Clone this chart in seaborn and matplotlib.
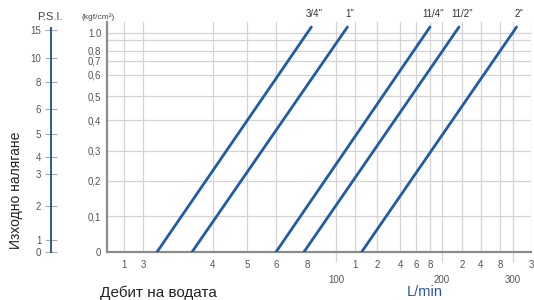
import numpy as np
import pandas as pd
import matplotlib
matplotlib.use("Agg")
import matplotlib.pyplot as plt
import seaborn as sns

# pipe sizes and their flow (L/min) at 0 and at the top of the pressure range
sizes = ['3/4"', '1"', '11/4"', '11/2"', '2"']
flow_start = [32, 37, 60, 78, 113]
flow_end = [83, 106, 180, 217, 306]
press_start = [0, 0, 0, 0, 0]
press_end = [1.1, 1.1, 1.1, 1.1, 1.1]

# x tick labels (the chart's own odd labelling)
x_ticks = [10, 30, 40, 50, 60, 80, 110, 120, 140, 160, 180, 220, 240, 280, 330]
x_tick_labels = ['1', '3', '4', '5', '6', '8', '1', '2', '4', '6', '8', '2', '4', '8', '3']
x_major = [100, 200, 300]
x_major_labels = ['100', '200', '300']

y_ticks = [0, 0.1, 0.2, 0.3, 0.4, 0.5, 0.6, 0.7, 0.8, 0.9, 1.0]
y_tick_labels = ['0', '0,1', '0,2', '0,3', '0,4', '0,5', '0,6', '0,7', '0,8', '', '1.0']

psi_ticks = [0, 1, 2, 3, 4, 5, 6, 8, 10, 15]

# scale knots of the printed (non-linear) axes
x_knot_val = [0, 10, 30, 40, 50, 60, 80, 100, 110, 120, 140, 160, 180, 200, 220, 240, 280, 300, 330]
x_knot_pos = [107, 124, 143, 213, 247, 276, 307, 336, 355, 377, 400, 416, 430, 442, 462, 481, 500, 513, 531]
y_knot_val = [0, 0.1, 0.2, 0.3, 0.4, 0.5, 0.6, 0.7, 0.8, 0.9, 1.0, 1.1, 1.15]
y_knot_pos = [0, 36, 71, 101, 132, 156, 177, 191, 201, 212, 219, 225, 230]
psi_knot_val = [0, 1, 2, 3, 4, 5, 6, 8, 10, 15, 16]
psi_knot_pos = [0, 12, 46, 77, 94, 117, 142, 169, 192, 220, 228]


def make_scale(vals, pos):
    vals = np.array(vals, float)
    pos = np.array(pos, float)
    def fwd(v):
        return np.interp(v, vals, pos)
    def inv(p):
        return np.interp(p, pos, vals)
    return fwd, inv


rows = []
for s, f0, f1, p0, p1 in zip(sizes, flow_start, flow_end, press_start, press_end):
    rows.append((s, f0, p0))
    rows.append((s, f1, p1))
df = pd.DataFrame(rows, columns=['size', 'flow', 'pressure'])

sns.set_style('white')
plt.rcParams['font.family'] = ['Liberation Sans', 'DejaVu Sans']

W, H = 534, 300
fig = plt.figure(figsize=(W / 100, H / 100), dpi=100)

line_blue = '#1f5ca6'
grid_col = '#d4d4d4'
tick_col = '#555555'

ax = fig.add_axes([107 / W, 48 / H, (531 - 107) / W, 230 / H])
ax.set_xscale('function', functions=make_scale(x_knot_val, x_knot_pos))
ax.set_yscale('function', functions=make_scale(y_knot_val, y_knot_pos))

sns.lineplot(data=df, x='flow', y='pressure', hue='size', palette=[line_blue] * 5,
             legend=False, sort=False, lw=2.0, ax=ax, zorder=3)

ax.set_xlim(0, 330)
ax.set_ylim(0, 1.15)
ax.set_xticks(x_ticks, x_tick_labels)
ax.set_xticks(x_major, x_major_labels, minor=True)
ax.set_yticks(y_ticks, y_tick_labels)
ax.tick_params(axis='x', which='major', bottom=True, length=0, pad=6, labelsize=7,
               labelcolor=tick_col)
ax.tick_params(axis='x', which='minor', bottom=True, length=7, width=0.9, color=grid_col,
               pad=9.5, labelsize=7, labelcolor=tick_col)
ax.tick_params(axis='y', length=0, pad=4, labelsize=7, labelcolor=tick_col)
ax.grid(True, which='both', color=grid_col, lw=0.9)
ax.set_axisbelow(True)
for t, v in zip(ax.xaxis.get_major_ticks(), x_ticks):
    if v == 80:
        t.gridline.set_visible(False)
for sp in ['top', 'right']:
    ax.spines[sp].set_visible(False)
for sp in ['left', 'bottom']:
    ax.spines[sp].set_color('#8c8c8c')
    ax.spines[sp].set_linewidth(1.6)
ax.set_xlabel('')
ax.set_ylabel('')

for s, f1, p1 in zip(sizes, flow_end, press_end):
    ax.annotate(s, xy=(f1, p1), xytext=(2, 6), textcoords='offset points',
                ha='center', va='bottom', fontsize=7, color='#333333',
                annotation_clip=False)

# P.S.I. scale on the left
ax2 = fig.add_axes([51 / W, 48 / H, 0.001, 230 / H])
ax2.set_yscale('function', functions=make_scale(psi_knot_val, psi_knot_pos))
ax2.set_ylim(0, 16)
ax2.set_yticks(psi_ticks, [str(v) for v in psi_ticks])
ax2.set_xticks([])
for sp in ['top', 'right', 'bottom']:
    ax2.spines[sp].set_visible(False)
ax2.spines['left'].set_color('#2a5b98')
ax2.spines['left'].set_linewidth(1.4)
ax2.spines['left'].set_bounds(0, 15.3)
ax2.tick_params(axis='y', left=True, direction='inout', length=8, width=0.8,
                color='#aaaaaa', pad=3, labelsize=7, labelcolor=tick_col)
ax2.patch.set_visible(False)

fig.text(50 / W, 1 - 17 / H, 'P.S.I.', ha='center', va='center', fontsize=8, color='#444444')
fig.text(98 / W, 1 - 17 / H, '(kgf/cm²)', ha='center', va='center', fontsize=6, color='#444444')
fig.text(16 / W, 1 - 190 / H, 'Изходно налягане', rotation=90, ha='center', va='center',
         fontsize=10, color='#222222')
fig.text(100 / W, 1 - 293 / H, 'Дебит на водата', ha='left', va='center',
         fontsize=11, color='#222222')
fig.text(407 / W, 1 - 292 / H, 'L/min', ha='left', va='center', fontsize=10.5, color='#2b55a3')

fig.savefig('out.png', dpi=100)
